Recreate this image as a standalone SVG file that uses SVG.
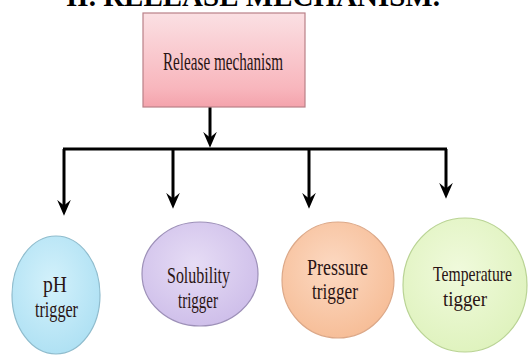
<svg xmlns="http://www.w3.org/2000/svg" width="529" height="358" viewBox="0 0 529 358">
<style>
.title{font-family:"Liberation Serif","Times New Roman",serif;font-weight:bold;font-size:29px;fill:#000}
.lbl{font-family:"Liberation Serif","Times New Roman",serif;font-size:24px;fill:#2a1414;text-anchor:start}
.big{font-size:26px}
.sm{font-size:22px}
.con{fill:none;stroke:#000;stroke-width:3}
</style>
<defs>
<linearGradient id="gBox" x1="0" y1="0" x2="0" y2="1">
<stop offset="0" stop-color="#fbe0e3"/><stop offset="0.8" stop-color="#f8b6bd"/><stop offset="1" stop-color="#f4a3ac"/>
</linearGradient>
<radialGradient id="gPh" cx="0.45" cy="0.4" r="0.65"><stop offset="0" stop-color="#d3f1fb"/><stop offset="1" stop-color="#ade0f3"/></radialGradient>
<radialGradient id="gSol" cx="0.45" cy="0.4" r="0.65"><stop offset="0" stop-color="#e6dcf5"/><stop offset="1" stop-color="#cdbde9"/></radialGradient>
<radialGradient id="gPr" cx="0.45" cy="0.4" r="0.65"><stop offset="0" stop-color="#fcd9c2"/><stop offset="1" stop-color="#f6bc95"/></radialGradient>
<radialGradient id="gTe" cx="0.45" cy="0.4" r="0.65"><stop offset="0" stop-color="#f0fadc"/><stop offset="1" stop-color="#def2bc"/></radialGradient>
<marker id="arr" markerUnits="userSpaceOnUse" markerWidth="16" markerHeight="14" viewBox="0 0 14 12" refX="8" refY="6" orient="auto">
<path d="M0,0 L14,6 L0,12 L5,6 Z" fill="#000"/>
</marker>
</defs>
<rect width="529" height="358" fill="#fff"/>
<text class="title" x="253" y="6" text-anchor="middle">II. RELEASE MECHANISM.</text>

<g id="connectors">
<path class="con" d="M210,107 V141" marker-end="url(#arr)"/>
<path class="con" d="M63,149 H447"/>
<path class="con" d="M64,149 V209" marker-end="url(#arr)"/>
<path class="con" d="M173,149 V202" marker-end="url(#arr)"/>
<path class="con" d="M309,149 V202" marker-end="url(#arr)"/>
<path class="con" d="M446,149 V192" marker-end="url(#arr)"/>
</g>

<g id="release">
<rect x="143" y="13" width="162" height="94" fill="url(#gBox)" stroke="#b98088" stroke-width="1.2"/>
<text class="lbl big" x="163" y="70" textLength="120" lengthAdjust="spacingAndGlyphs">Release mechanism</text>
</g>

<g id="ph">
<ellipse cx="56" cy="295" rx="44" ry="59" fill="url(#gPh)" stroke="#8fbccd" stroke-width="1.2"/>
<text class="lbl" x="43" y="292" textLength="24" lengthAdjust="spacingAndGlyphs">pH</text>
<text class="lbl" x="35" y="317" textLength="43" lengthAdjust="spacingAndGlyphs">trigger</text>
</g>

<g id="solubility">
<ellipse cx="200" cy="274" rx="58" ry="52" fill="url(#gSol)" stroke="#9d90b8" stroke-width="1.2"/>
<text class="lbl" x="167" y="283" textLength="63" lengthAdjust="spacingAndGlyphs">Solubility</text>
<text class="lbl" x="178" y="308" textLength="40" lengthAdjust="spacingAndGlyphs">trigger</text>
</g>

<g id="pressure">
<ellipse cx="338" cy="280" rx="56" ry="58" fill="url(#gPr)" stroke="#dca888" stroke-width="1.2"/>
<text class="lbl" x="307" y="275" textLength="61" lengthAdjust="spacingAndGlyphs">Pressure</text>
<text class="lbl" x="312" y="299" textLength="46" lengthAdjust="spacingAndGlyphs">trigger</text>
</g>

<g id="temperature">
<ellipse cx="465" cy="285" rx="62" ry="67" fill="url(#gTe)" stroke="#b9d394" stroke-width="1.2"/>
<text class="lbl sm" x="433" y="281" textLength="79" lengthAdjust="spacingAndGlyphs">Temperature</text>
<text class="lbl sm" x="443" y="306" textLength="44" lengthAdjust="spacingAndGlyphs">tigger</text>
</g>
</svg>
